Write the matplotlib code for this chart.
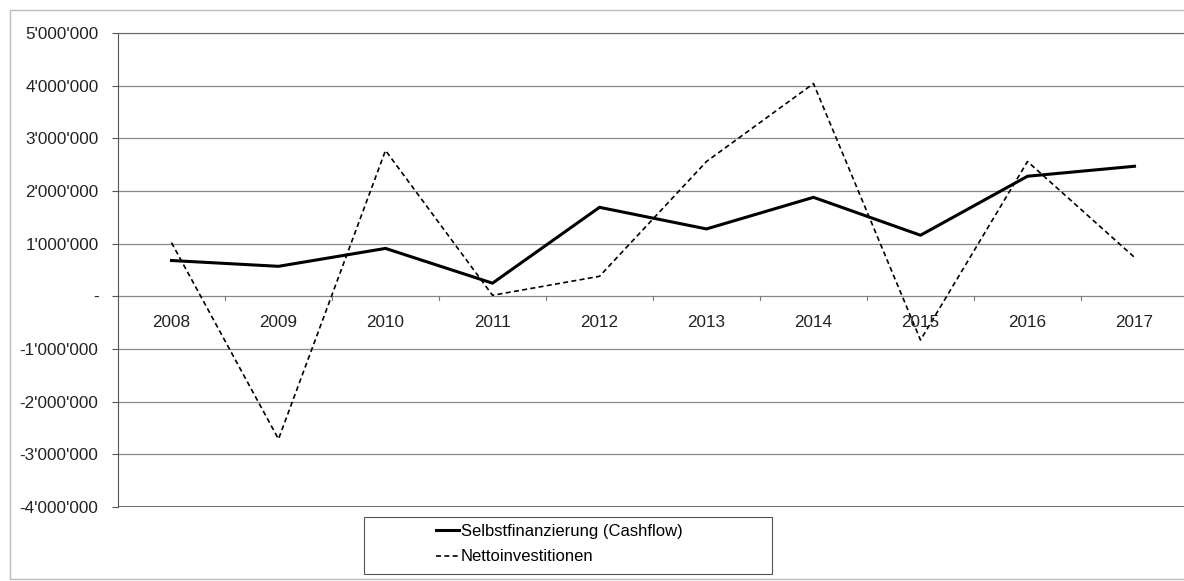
import matplotlib.pyplot as plt
from matplotlib.patches import Rectangle
from matplotlib.ticker import FuncFormatter

plt.rcParams['font.family'] = ['Liberation Sans', 'DejaVu Sans']

years = ['2008', '2009', '2010', '2011', '2012', '2013', '2014', '2015', '2016', '2017']
cashflow = [680000, 570000, 910000, 250000, 1690000, 1280000, 1880000, 1160000, 2280000, 2470000]
netto = [1020000, -2710000, 2770000, 20000, 380000, 2560000, 4040000, -830000, 2560000, 740000]

W, H = 1184, 581
fig = plt.figure(figsize=(W / 100, H / 100), dpi=100)
ax = fig.add_axes([118 / W, 1 - 507 / H, (1188 - 118) / W, (507 - 33) / H])

# light outer frame of the chart
fig.patches.append(Rectangle((10 / W, 2 / H), 1.2, 1 - 12 / H, transform=fig.transFigure,
                             fill=False, edgecolor='#bbbbbb', linewidth=1))

x = range(len(years))
ax.plot(x, cashflow, color='black', linewidth=2.2, label='Selbstfinanzierung (Cashflow)')
ax.plot(x, netto, color='black', linewidth=1.2, linestyle=(0, (3, 2)), label='Nettoinvestitionen')

ax.set_xlim(-0.5, len(years) - 0.5)
ax.set_ylim(-4000000, 5000000)
ax.set_yticks(range(-4000000, 5000001, 1000000))
ax.yaxis.grid(True, color='#888888', linewidth=0.9)
ax.set_axisbelow(True)


def fmt(v, pos):
    if v == 0:
        return '-'
    s = f"{abs(int(v)):,}".replace(',', "'")
    return ('-' if v < 0 else '') + s


ax.yaxis.set_major_formatter(FuncFormatter(fmt))
ax.tick_params(axis='y', labelsize=12.3, length=4, color='#555555', pad=10, labelcolor='#222222')

# category axis sits on zero line
ax.spines['bottom'].set_visible(False)
ax.spines['right'].set_visible(False)
ax.spines['top'].set_color('#666666')
ax.spines['left'].set_color('#555555')
ax.set_xticks([])
for i, yr in enumerate(years):
    ax.annotate(yr, (i, 0), xytext=(0, -18.5), textcoords='offset points',
                ha='center', va='center', fontsize=12.3, color='#222222')
for i in range(1, len(years)):
    ax.plot([i - 0.5, i - 0.5], [0, -70000], color='#777777', linewidth=0.8)
ax.axhline(-4000000, color='#555555', linewidth=1.2)

# legend box
fig.patches.append(Rectangle((364 / W, 1 - 574 / H), (772 - 364) / W, (574 - 517) / H,
                             transform=fig.transFigure, fill=False, edgecolor='#555555',
                             linewidth=0.8))
fig.legend(loc='center left', bbox_to_anchor=(436 / W, 1 - 544 / H), frameon=False,
           fontsize=12, handlelength=1.4, handletextpad=0.1, borderpad=0,
           labelspacing=0.65, borderaxespad=0)

fig.savefig('out.png', dpi=100)
